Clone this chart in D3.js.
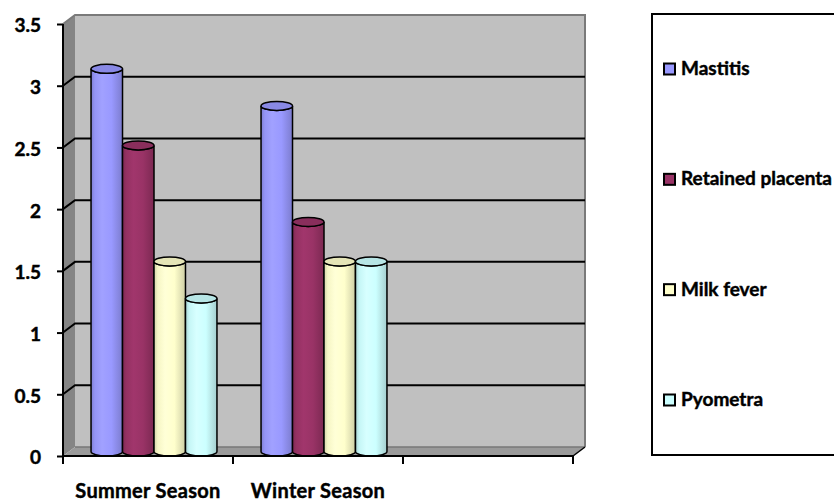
<!DOCTYPE html>
<html>
<head>
<meta charset="utf-8">
<script src="https://cdn.jsdelivr.net/npm/d3@7"></script>
<style>
  html, body { margin: 0; padding: 0; background: #fff; }
  svg { display: block; }
  text { font-family: Lato, "Open Sans", sans-serif; font-weight: bold; fill: #000; stroke: #000; stroke-width: 0.45px; }
</style>
</head>
<body>
<svg id="chart" width="834" height="502"></svg>
<script>
// Disease incidence by season
const categories = ["Summer Season", "Winter Season", ""];
const series = ["Mastitis", "Retained placenta", "Milk fever", "Pyometra"];
const mastitis = [3.1, 2.8];
const retainedPlacenta = [2.48, 1.86];
const milkFever = [1.54, 1.54];
const pyometra = [1.24, 1.54];
const yTicks = [0, 0.5, 1, 1.5, 2, 2.5, 3, 3.5];
const colors = ["#9999ff", "#993366", "#ffffcc", "#ccffff"];

const values = [mastitis, retainedPlacenta, milkFever, pyometra];

const svg = d3.select("#chart");
const defs = svg.append("defs");

// plot frame (front face) and 3D depth offset
const plotLeft = 63, plotRight = 573, plotTop = 24, plotBottom = 456;
const depthX = 12, depthY = -9;

const x = d3.scaleBand().domain(categories).range([plotLeft, plotRight]);
const x1 = d3.scaleBand().domain(series).range([0, x.bandwidth()]).paddingOuter(0.7);
const y = d3.scaleLinear().domain([0, 3.5]).range([plotBottom, plotTop]);

// walls
const g = svg.append("g");
// side wall
g.append("path")
  .attr("d", `M${plotLeft},${y(3.5)} L${plotLeft + depthX},${y(3.5) + depthY} L${plotLeft + depthX},${y(0) + depthY} L${plotLeft},${y(0)} Z`)
  .attr("fill", "#858585");
// floor
g.append("path")
  .attr("d", `M${plotLeft},${y(0)} L${plotLeft + depthX},${y(0) + depthY} L${plotRight + depthX},${y(0) + depthY} L${plotRight},${y(0)} Z`)
  .attr("fill", "#9a9a9a");
// back wall
g.append("rect")
  .attr("x", plotLeft + depthX).attr("y", y(3.5) + depthY)
  .attr("width", plotRight - plotLeft).attr("height", y(0) - y(3.5))
  .attr("fill", "#c0c0c0");
// back wall borders
g.append("path")
  .attr("d", `M${plotLeft},${y(3.5)} L${plotLeft + depthX},${y(3.5) + depthY} L${plotRight + depthX},${y(3.5) + depthY} L${plotRight + depthX},${y(0) + depthY}`)
  .attr("fill", "none").attr("stroke", "#7a7a7a").attr("stroke-width", 2);
g.append("path")
  .attr("d", `M${plotLeft + depthX},${y(0) + depthY} L${plotRight + depthX},${y(0) + depthY}`)
  .attr("stroke", "#777").attr("stroke-width", 1.5);

// gridlines on side and back walls
const grid = g.append("g").attr("fill", "none").attr("stroke", "#000").attr("stroke-width", 2);
yTicks.filter(t => t > 0 && t < 3.5).forEach(t => {
  grid.append("path")
    .attr("d", `M${plotLeft},${y(t)} L${plotLeft + depthX},${y(t) + depthY} L${plotRight + depthX},${y(t) + depthY}`);
});

// floor right edge
g.append("path")
  .attr("d", `M${plotRight},${y(0)} L${plotRight + depthX},${y(0) + depthY}`)
  .attr("stroke", "#000").attr("stroke-width", 1.5);

// cylinder gradients
colors.forEach((c, i) => {
  const base = d3.color(c);
  const grad = defs.append("linearGradient").attr("id", "cyl" + i)
    .attr("x1", "0%").attr("x2", "100%").attr("y1", "0%").attr("y2", "0%");
  grad.append("stop").attr("offset", "0%").attr("stop-color", base.darker(0.55));
  grad.append("stop").attr("offset", "12%").attr("stop-color", base.darker(0.1));
  grad.append("stop").attr("offset", "35%").attr("stop-color", base.brighter(0.15));
  grad.append("stop").attr("offset", "65%").attr("stop-color", base);
  grad.append("stop").attr("offset", "100%").attr("stop-color", base.darker(0.6));
});

// cylinders
const bars = svg.append("g");
const ry = 4.5;
categories.forEach((cat, ci) => {
  series.forEach((s, si) => {
    const v = values[si][ci];
    if (v === undefined) return;
    const w = x1.bandwidth();
    const x0 = x(cat) + x1(s) + depthX / 2;
    const rx = w / 2;
    const yt = y(v) + depthY / 2;
    const yb = y(0) + depthY / 2;
    bars.append("path")
      .attr("d", `M${x0},${yt} L${x0},${yb} A${rx},${ry} 0 0 0 ${x0 + w},${yb} L${x0 + w},${yt} A${rx},${ry} 0 0 1 ${x0},${yt} Z`)
      .attr("fill", `url(#cyl${si})`)
      .attr("stroke", "#000").attr("stroke-width", 1.5);
    bars.append("ellipse")
      .attr("cx", x0 + rx).attr("cy", yt)
      .attr("rx", rx).attr("ry", ry)
      .attr("fill", d3.color(colors[si]).darker(0.3))
      .attr("stroke", "#000").attr("stroke-width", 1.5);
  });
});

// floor front edge and value axis line
const axes = svg.append("g").attr("stroke", "#000").attr("stroke-width", 2).attr("fill", "none");
axes.append("line").attr("x1", plotLeft).attr("x2", plotRight).attr("y1", y(0)).attr("y2", y(0));
axes.append("line").attr("x1", plotLeft).attr("x2", plotLeft).attr("y1", y(3.5)).attr("y2", y(0));

// y-axis
const yAxis = svg.append("g").attr("transform", `translate(${plotLeft},0)`)
  .call(d3.axisLeft(y).tickValues(yTicks).tickSize(6).tickPadding(16).tickFormat(d3.format("")));
yAxis.select(".domain").remove();
yAxis.selectAll(".tick line").attr("stroke", "#000").attr("stroke-width", 2);
yAxis.selectAll(".tick text")
  .attr("font-size", 19).attr("font-family", "Lato, sans-serif").attr("font-weight", "bold")
  .attr("fill", "#000").attr("stroke", "#000").attr("stroke-width", 0.45)
  .attr("dy", "0.42em");

// x-axis ticks at category boundaries
const xb = categories.map(c => x(c)).concat([plotRight]);
svg.append("g").selectAll("line").data(xb).join("line")
  .attr("x1", d => d).attr("x2", d => d).attr("y1", y(0)).attr("y2", y(0) + 8)
  .attr("stroke", "#000").attr("stroke-width", 2);
svg.append("g").selectAll("text").data(categories).join("text")
  .attr("x", d => x(d) + x.bandwidth() / 2).attr("y", 498)
  .attr("text-anchor", "middle").attr("font-size", 20).attr("letter-spacing", 0.3)
  .text(d => d);

// legend
const legend = svg.append("g");
legend.append("rect")
  .attr("x", 652).attr("y", 14).attr("width", 200).attr("height", 441)
  .attr("fill", "#fff").attr("stroke", "#000").attr("stroke-width", 2);
const ly = d3.scalePoint().domain(series).range([75, 406]);
series.forEach((s, i) => {
  legend.append("rect")
    .attr("x", 664).attr("y", ly(s) - 11.5).attr("width", 11).attr("height", 11)
    .attr("fill", colors[i]).attr("stroke", "#000").attr("stroke-width", 2);
  legend.append("text")
    .attr("x", 681).attr("y", ly(s)).attr("font-size", 19).text(s);
});
</script>
</body>
</html>
